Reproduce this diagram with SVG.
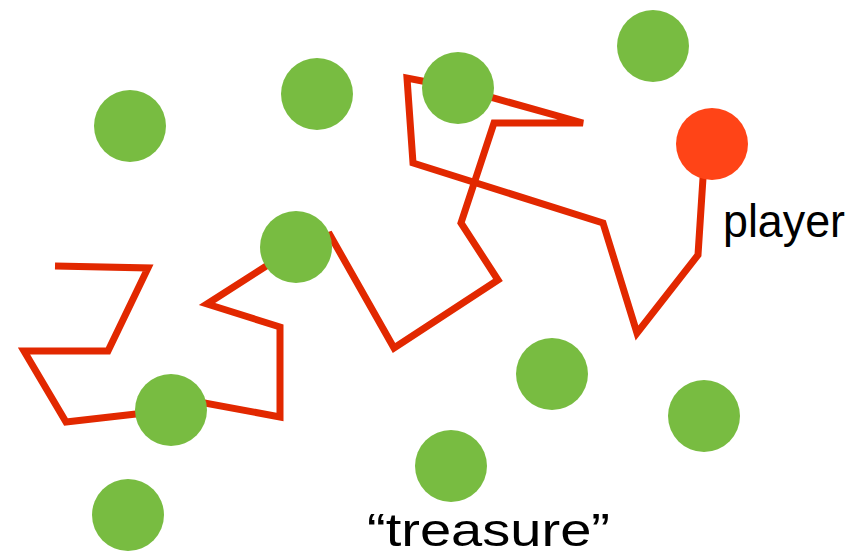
<svg xmlns="http://www.w3.org/2000/svg" width="864" height="557" viewBox="0 0 864 557">
<style>
.walk{fill:none;stroke:#E22800;stroke-width:7;stroke-linejoin:miter;stroke-miterlimit:4}
.treasure{fill:#78BC41}
.player{fill:#FF4417}
.lbl{font-family:"Liberation Sans",Arial,sans-serif;font-size:46px;fill:#000}
</style>
<rect width="864" height="557" fill="#fff"/>
<g id="connectors">
<polyline class="walk" points="55,266 148,268 108,351 24,351 66,422 171,410 205,403 280,417 280,327 207,304 296,247 330,235 394,348 498,280 461,223 494,123 583,123 458,88 407,78 413,163 603,223 637,333 698,255 703,178 712,144"/>
</g>
<g id="t1"><circle class="treasure" cx="130" cy="126" r="36"/></g>
<g id="t2"><circle class="treasure" cx="317" cy="94" r="36"/></g>
<g id="t3"><circle class="treasure" cx="458" cy="88" r="36"/></g>
<g id="t4"><circle class="treasure" cx="653" cy="46" r="36"/></g>
<g id="t5"><circle class="treasure" cx="296" cy="247" r="36"/></g>
<g id="t6"><circle class="treasure" cx="171" cy="410" r="36"/></g>
<g id="t7"><circle class="treasure" cx="552" cy="374" r="36"/></g>
<g id="t8"><circle class="treasure" cx="704" cy="416" r="36"/></g>
<g id="t9"><circle class="treasure" cx="451" cy="466" r="36"/></g>
<g id="t10"><circle class="treasure" cx="128" cy="515" r="36"/></g>
<g id="player"><circle class="player" cx="712" cy="144" r="36"/>
<text class="lbl" x="723" y="237" textLength="122" lengthAdjust="spacingAndGlyphs">player</text></g>
<g id="treasure-label"><text class="lbl" x="367" y="546" textLength="243" lengthAdjust="spacingAndGlyphs">“treasure”</text></g>
</svg>
